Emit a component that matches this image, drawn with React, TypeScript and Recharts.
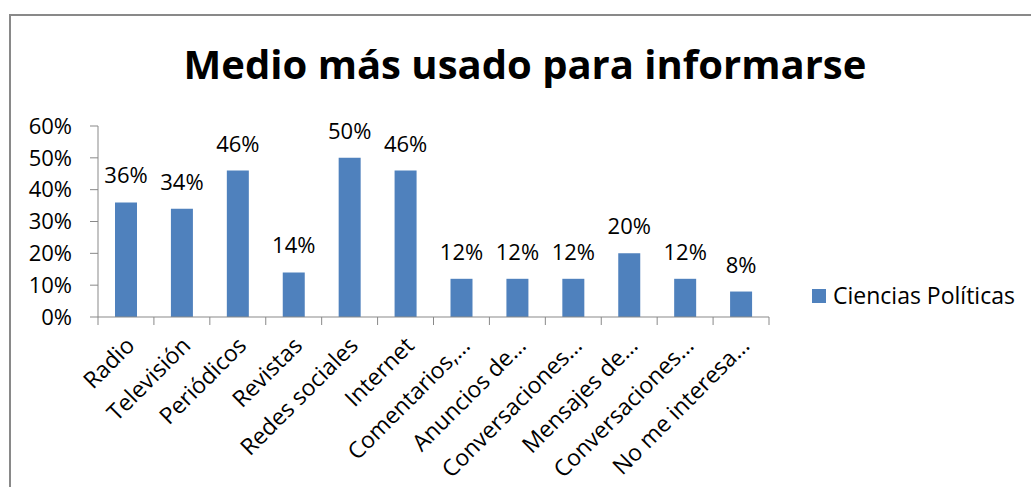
import React from 'react';
import { BarChart, Bar, XAxis, YAxis, LabelList, Legend } from 'recharts';

const categories = [
  'Radio',
  'Televisión',
  'Periódicos',
  'Revistas',
  'Redes sociales',
  'Internet',
  'Comentarios,…',
  'Anuncios de…',
  'Conversaciones…',
  'Mensajes de…',
  'Conversaciones…',
  'No me interesa…',
];
const cienciasPoliticas = [36, 34, 46, 14, 50, 46, 12, 12, 12, 20, 12, 8];
const yTicks = [0, 10, 20, 30, 40, 50, 60];
const seriesName = 'Ciencias Políticas';
const title = 'Medio más usado para informarse';

const data = categories.map((name, i) => ({ name, value: cienciasPoliticas[i] }));

const W = 1031;
const H = 487;
const FONT = "'Open Sans', sans-serif";
const BAR_COLOR = '#4F81BD';
const AXIS_COLOR = '#898989';
const MARGIN = { top: 126, right: 262, bottom: 0, left: 0 };
const Y_WIDTH = 98;
const BAND = (W - Y_WIDTH - MARGIN.right) / categories.length;

const XTick = ({ x, y, payload, index }: any) => {
  const last = index === categories.length - 1;
  const tx = x + 10;
  const ty = y + 30;
  return (
    <g>
      <line x1={x - BAND / 2} y1={y} x2={x - BAND / 2} y2={y + 8} stroke={AXIS_COLOR} />
      {last && <line x1={x + BAND / 2} y1={y} x2={x + BAND / 2} y2={y + 8} stroke={AXIS_COLOR} />}
      <text
        x={tx}
        y={ty}
        textAnchor="end"
        transform={`rotate(-45, ${tx}, ${ty})`}
        fontSize={23}
        fontFamily={FONT}
        fill="#000"
      >
        {payload.value}
      </text>
    </g>
  );
};

const LegendBox = () => (
  <div style={{ display: 'flex', alignItems: 'center', fontFamily: FONT }}>
    <span style={{ width: 14, height: 14, background: BAR_COLOR, display: 'inline-block' }} />
    <span style={{ marginLeft: 7, fontSize: 23, color: '#000', lineHeight: 1 }}>{seriesName}</span>
  </div>
);

export default function App() {
  return (
    <div style={{ position: 'absolute', left: 0, top: 0, width: W, height: H, overflow: 'hidden', background: '#fff' }}>
      <div
        style={{
          position: 'absolute',
          left: 9,
          top: 14,
          width: W + 50,
          height: H + 50,
          borderTop: `2px solid ${AXIS_COLOR}`,
          borderLeft: `2px solid ${AXIS_COLOR}`,
        }}
      />
      <div
        style={{
          position: 'absolute',
          left: 0,
          top: 44,
          width: 1050,
          textAlign: 'center',
          fontFamily: FONT,
          fontWeight: 700,
          fontSize: 40,
          lineHeight: '40px',
          color: '#000',
        }}
      >
        {title}
      </div>
      <div style={{ position: 'absolute', left: 0, top: 0 }}>
        <BarChart width={W} height={H} data={data} margin={MARGIN} barSize={22}>
          <XAxis
            dataKey="name"
            interval={0}
            height={H - 317}
            tickSize={0}
            tickMargin={0}
            tickLine={false}
            axisLine={{ stroke: AXIS_COLOR }}
            tick={<XTick />}
          />
          <YAxis
            width={Y_WIDTH}
            domain={[0, 60]}
            ticks={yTicks}
            interval={0}
            tickFormatter={(v: number) => `${v}%`}
            tickSize={8}
            tickMargin={18}
            axisLine={{ stroke: AXIS_COLOR }}
            tickLine={{ stroke: AXIS_COLOR }}
            tick={{ fill: '#000', fontSize: 22, fontFamily: FONT }}
          />
          <Legend
            layout="vertical"
            align="center"
            verticalAlign="middle"
            content={<LegendBox />}
            wrapperStyle={{ position: 'absolute', left: 812, top: 284, width: 'auto' }}
          />
          <Bar dataKey="value" name={seriesName} fill={BAR_COLOR} isAnimationActive={false}>
            <LabelList
              dataKey="value"
              position="top"
              offset={19}
              formatter={(v: any) => `${v}%`}
              style={{ fill: '#000', fontSize: 22, fontFamily: FONT }}
            />
          </Bar>
        </BarChart>
      </div>
    </div>
  );
}
